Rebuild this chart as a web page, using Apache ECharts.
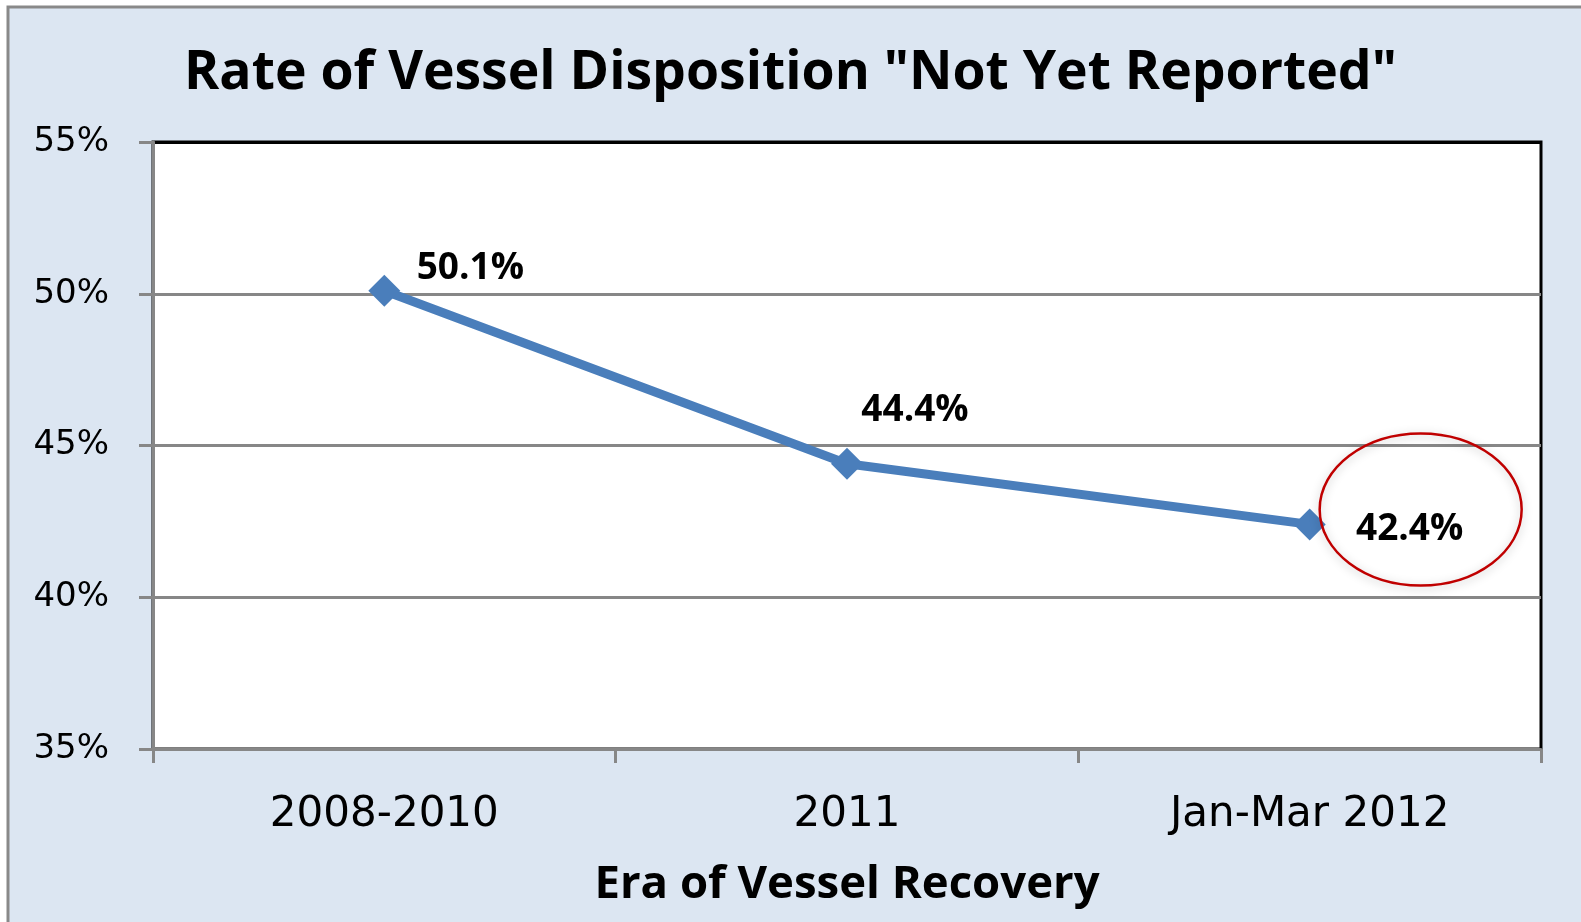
<!DOCTYPE html>
<html>
<head>
<meta charset="utf-8">
<script src="https://cdn.jsdelivr.net/npm/echarts@6/dist/echarts.min.js"></script>
<style>
html,body{margin:0;padding:0;background:#ffffff;}
#chart{width:1581px;height:922px;}
</style>
</head>
<body>
<div id="chart"></div>
<script>
// ---- data ----
const categories = ['2008-2010', '2011', 'Jan-Mar 2012'];
const notYetReported = [50.1, 44.4, 42.4];
const yTicks = [35, 40, 45, 50, 55];
const titleText = 'Rate of Vessel Disposition "Not Yet Reported"';
const xAxisName = 'Era of Vessel Recovery';

// ---- chart ----
const chart = echarts.init(document.getElementById('chart'), null, {renderer: 'canvas'});
const labelOffsets = [[86, -22], [68, -53], [100, 5]];
const axisGray = '#878787';

const option = {
  backgroundColor: '#ffffff',
  animation: false,
  title: {
    text: titleText,
    left: 'center',
    top: 42,
    textStyle: {fontFamily: 'Open Sans', fontWeight: 'bold', fontSize: 53.5, color: '#000'}
  },
  grid: {
    left: 153, right: 40, top: 142, bottom: 173,
    show: true, backgroundColor: '#ffffff', borderColor: '#000000', borderWidth: 3
  },
  xAxis: {
    type: 'category',
    data: categories,
    boundaryGap: true,
    name: xAxisName,
    nameLocation: 'middle',
    nameGap: 113,
    nameTextStyle: {fontFamily: 'Open Sans', fontWeight: 'bold', fontSize: 45.5, color: '#000'},
    axisLine: {lineStyle: {color: axisGray, width: 3}},
    axisTick: {show: true, length: 14, lineStyle: {color: axisGray, width: 3}, alignWithLabel: false},
    axisLabel: {fontFamily: 'DejaVu Sans', fontSize: 42, color: '#000', margin: 45}
  },
  yAxis: {
    type: 'value',
    min: yTicks[0],
    max: yTicks[yTicks.length - 1],
    interval: yTicks[1] - yTicks[0],
    axisLine: {show: true, lineStyle: {color: axisGray, width: 3}},
    axisTick: {show: true, length: 14, lineStyle: {color: axisGray, width: 3}},
    splitLine: {show: true, lineStyle: {color: [axisGray, axisGray, axisGray, axisGray, '#000000'], width: 3}},
    axisLabel: {fontFamily: 'DejaVu Sans', fontSize: 34, color: '#000', margin: 44, formatter: '{value}%'}
  },
  series: [{
    type: 'line',
    data: notYetReported.map((v, i) => ({
      value: v,
      label: {offset: labelOffsets[i]}
    })),
    symbol: 'diamond',
    symbolSize: 32,
    lineStyle: {color: '#4A7EBB', width: 9},
    itemStyle: {color: '#4A7EBB'},
    label: {
      show: true,
      position: 'inside',
      formatter: p => p.value.toFixed(1) + '%',
      fontFamily: 'Open Sans', fontWeight: 'bold', fontSize: 37, color: '#000',
      align: 'center', verticalAlign: 'middle'
    },
    z: 3
  }]
};
chart.setOption(option);

// outer frame + highlight ellipse around the last point
const last = chart.convertToPixel({seriesIndex: 0}, [categories.length - 1, notYetReported[notYetReported.length - 1]]);
chart.setOption({
  graphic: [
    {
      type: 'rect', z: -10, silent: true,
      shape: {x: 8, y: 7, width: 1600, height: 940},
      style: {fill: '#DCE6F2', stroke: '#898989', lineWidth: 3}
    },
    {
      type: 'ellipse', z: 100, silent: true,
      shape: {cx: last[0] + 111, cy: last[1] - 15, rx: 101, ry: 76},
      style: {fill: 'rgba(0,0,0,0)', stroke: '#C00000', lineWidth: 2.5,
              shadowBlur: 10, shadowColor: 'rgba(0,0,0,0.25)', shadowOffsetY: 2}
    }
  ]
});
</script>
</body>
</html>
